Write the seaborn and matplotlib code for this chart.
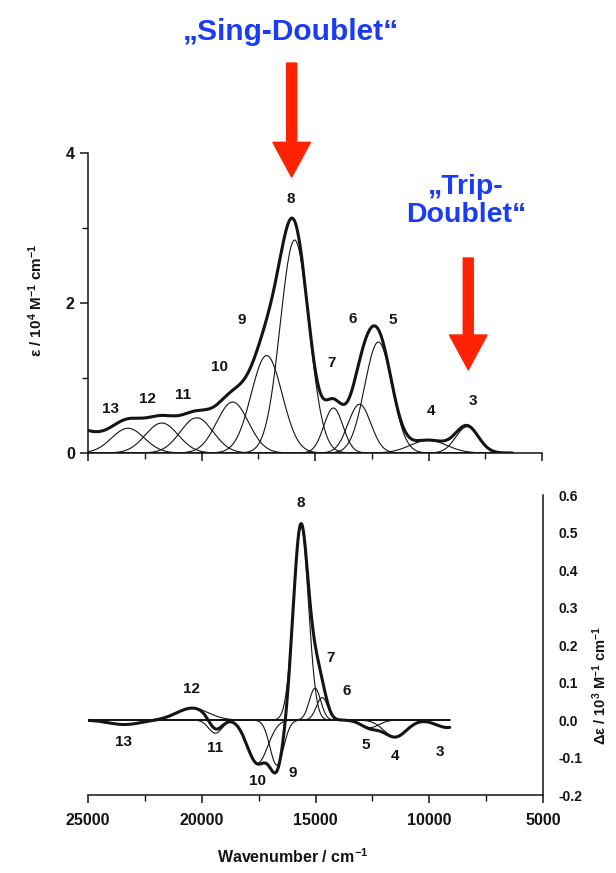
import numpy as np
import pandas as pd
import matplotlib.pyplot as plt
import seaborn as sns
from matplotlib.patches import FancyArrowPatch
from matplotlib.ticker import MultipleLocator, FormatStrFormatter

# Gaussian deconvolution of the absorption spectrum (top)
# centre / cm-1, height / 10^4 M-1 cm-1, sigma / cm-1
abs_bands = ['3', '4', '5', '6', '7', '8', '9', '10', '11', '12', '13']
abs_centre = [8300, 10000, 12210, 13040, 14190, 15900, 17130, 18630, 20210, 21750, 23240]
abs_height = [0.35, 0.17, 1.48, 0.65, 0.60, 2.84, 1.30, 0.68, 0.47, 0.40, 0.33]
abs_sigma = [500, 800, 600, 500, 420, 630, 680, 700, 720, 720, 720]
# unlabelled UV band above 25000 cm-1 (only lifts the envelope at the left)
uv_centre, uv_height, uv_sigma = 27000, 0.47, 2000

# Gaussian deconvolution of the MCD spectrum (bottom), height / 10^3 M-1 cm-1
mcd_bands = ['3', '4', '5', '6', '7', '8', '9', '10', '11', '12', '13']
mcd_centre = [9200, 11500, 12600, 14710, 15020, 15640, 16700, 17550, 19400, 20400, 23400]
mcd_height = [-0.02, -0.045, -0.02, 0.06, 0.085, 0.52, -0.12, -0.115, -0.035, 0.032, -0.012]
mcd_sigma = [500, 500, 400, 250, 250, 330, 300, 450, 300, 700, 700]

# where the band numbers are written
abs_label_x = [8030, 9880, 11590, 13350, 14280, 16080, 18230, 19200, 20820, 22360, 24030]
abs_label_y = [0.69, 0.56, 1.77, 1.79, 1.20, 3.39, 1.77, 1.15, 0.77, 0.72, 0.59]
mcd_label_x = [9530, 11500, 12780, 13620, 14360, 15640, 15990, 17570, 19420, 20430, 23420]
mcd_label_y = [-0.085, -0.096, -0.067, 0.077, 0.165, 0.579, -0.141, -0.163, -0.075, 0.083, -0.059]


def gauss(x, c, h, s):
    return h * np.exp(-0.5 * ((x - c) / s) ** 2)


def band_table(grid, names, centres, heights, sigmas):
    rows = []
    for n, c, h, s in zip(names, centres, heights, sigmas):
        rows.append(pd.DataFrame({'wn': grid, 'val': gauss(grid, c, h, s), 'band': n}))
    return pd.concat(rows, ignore_index=True)


wn_abs = np.linspace(25000, 6300, 900)
wn_mcd = np.linspace(25000, 9100, 900)

abs_df = band_table(wn_abs, abs_bands, abs_centre, abs_height, abs_sigma)
abs_env = abs_df.groupby('wn', sort=False)['val'].sum() + gauss(wn_abs, uv_centre, uv_height, uv_sigma)
mcd_df = band_table(wn_mcd, mcd_bands, mcd_centre, mcd_height, mcd_sigma)
mcd_env = mcd_df.groupby('wn', sort=False)['val'].sum()

sns.set_theme(style="ticks")
plt.rcParams['font.family'] = ['Liberation Sans', 'DejaVu Sans']
plt.rcParams['mathtext.default'] = 'regular'
ink = '#141414'

fig = plt.figure(figsize=(6.16, 8.73), dpi=100)
ax1 = fig.add_axes([0.1429, 0.4811, 0.737, 0.3436])
ax2 = fig.add_axes([0.1429, 0.0893, 0.7386, 0.3436])

# --- top: absorption
sns.lineplot(data=abs_df, x='wn', y='val', units='band', estimator=None,
             color=ink, lw=0.8, ax=ax1, legend=False)
sns.lineplot(x=wn_abs, y=abs_env.values, color=ink, lw=2.2, ax=ax1, estimator=None)
ax1.set_xlim(25000, 5000)
ax1.set_ylim(0, 4)
ax1.xaxis.set_major_locator(MultipleLocator(5000))
ax1.xaxis.set_minor_locator(MultipleLocator(2500))
ax1.yaxis.set_major_locator(MultipleLocator(2))
ax1.yaxis.set_minor_locator(MultipleLocator(1))
ax1.tick_params(axis='x', labelbottom=False)
sns.despine(ax=ax1)
ax1.set_xlabel('')
ax1.set_ylabel('ε / 10$^4$ M$^{-1}$ cm$^{-1}$', fontsize=11, fontweight='bold', color=ink)
ax1.yaxis.set_label_coords(-0.095, 0.51)
for t, x, y in zip(abs_bands, abs_label_x, abs_label_y):
    ax1.text(x, y, t, ha='center', va='center', fontsize=11, fontweight='bold', color=ink)

# arrows and state labels
red = '#ff2200'
blue = '#1a3cf5'
for x, y0, y1 in [(16030, 5.2, 3.68), (8250, 2.6, 1.11)]:
    arr = FancyArrowPatch(posA=(x, y0), posB=(x, y1),
                          arrowstyle='simple,head_length=2.5,head_width=2.7,tail_width=0.72',
                          mutation_scale=10, color=red, shrinkA=0, shrinkB=0,
                          transform=ax1.transData, clip_on=False)
    ax1.add_artist(arr)
ax1.text(16080, 5.61, '„Sing-Doublet“', ha='center', va='center', fontsize=21.5,
         fontweight='bold', color=blue, clip_on=False)
ax1.text(8340, 3.36, '„Trip-\nDoublet“', ha='center', va='center', fontsize=20.5,
         fontweight='bold', color=blue, linespacing=1.12, multialignment='center')

# --- bottom: MCD
sns.lineplot(data=mcd_df, x='wn', y='val', units='band', estimator=None,
             color=ink, lw=0.8, ax=ax2, legend=False)
sns.lineplot(x=wn_mcd, y=mcd_env.values, color=ink, lw=2.2, ax=ax2, estimator=None)
ax2.set_xlim(25000, 5000)
ax2.set_ylim(-0.2, 0.6)
ax2.xaxis.set_major_locator(MultipleLocator(5000))
ax2.xaxis.set_minor_locator(MultipleLocator(2500))
ax2.yaxis.set_major_locator(MultipleLocator(0.1))
ax2.yaxis.set_minor_locator(MultipleLocator(0.05))
ax2.yaxis.set_major_formatter(FormatStrFormatter('%.1f'))
ax2.yaxis.tick_right()
ax2.yaxis.set_label_position('right')
sns.despine(ax=ax2, left=True, right=False)
ax2.set_xlabel('Wavenumber / cm$^{-1}$', fontsize=11.5, fontweight='bold', color=ink)
ax2.xaxis.set_label_coords(0.45, -0.173)
ax2.set_ylabel('Δε / 10$^3$ M$^{-1}$ cm$^{-1}$', fontsize=10.5, fontweight='bold', color=ink)
ax2.yaxis.set_label_coords(1.105, 0.367)
for t, x, y in zip(mcd_bands, mcd_label_x, mcd_label_y):
    ax2.text(x, y, t, ha='center', va='center', fontsize=11, fontweight='bold', color=ink)

for ax in (ax1, ax2):
    for sp in ax.spines.values():
        sp.set_linewidth(1.1)
        sp.set_color(ink)
    ax.tick_params(which='major', direction='out', length=6, width=1.1, colors=ink)
    ax.tick_params(which='minor', direction='out', length=4, width=1.0, colors=ink)
    for lab in ax.get_xticklabels() + ax.get_yticklabels():
        lab.set_fontweight('bold')
ax1.tick_params(axis='y', labelsize=11.5)
ax2.tick_params(axis='x', labelsize=11.5, pad=7)
ax2.tick_params(axis='y', labelsize=10, pad=5)

fig.savefig('out.png', dpi=100)
